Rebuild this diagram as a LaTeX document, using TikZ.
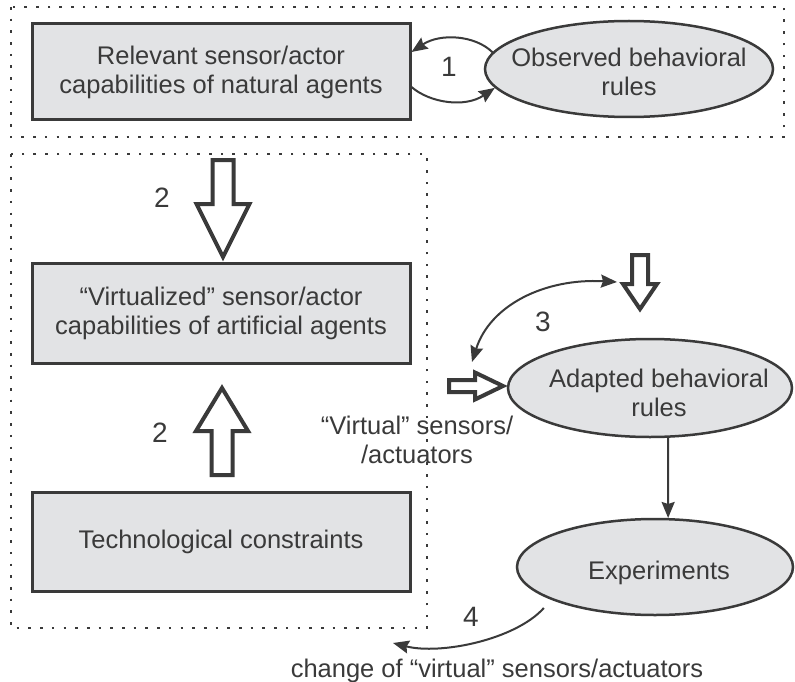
\documentclass[tikz,border=0pt]{standalone}
\usepackage{fontspec}
\setmainfont{Liberation Sans}
\usetikzlibrary{arrows.meta,shapes.geometric,calc}

\definecolor{ink}{HTML}{3A3A3A}
\definecolor{boxfill}{HTML}{E2E3E5}

\begin{document}
\begin{tikzpicture}[x=1pt,y=-1pt,
  txt/.style={font=\fontsize{25.5}{29}\selectfont, align=center, text=ink, inner sep=0pt},
  num/.style={font=\fontsize{28}{30}\selectfont, text=ink, inner sep=0pt},
  capbox/.style={draw=ink, line width=3pt, fill=boxfill, minimum width=378pt, inner sep=0pt, txt},
  oval/.style={ellipse, draw=ink, line width=2.5pt, fill=boxfill, inner sep=0pt},
  region/.style={draw=ink, line width=2.6pt, dash pattern=on 2.6pt off 9.1pt},
  link/.style={draw=ink, line width=2pt, -{Stealth[length=16pt,width=13pt,inset=2pt]}},
  twolink/.style={draw=ink, line width=2pt, {Stealth[length=16pt,width=13pt,inset=2pt]}-{Stealth[length=16pt,width=13pt,inset=2pt]}},
  hollow/.style={draw=ink, line width=4pt, fill=white, line join=miter},
  pics/harrow/.style n args={4}{code={
    \path[hollow] (0,-#3) -- ({#1-#2},-#3) -- ({#1-#2},-#4) -- (#1,0)
      -- ({#1-#2},#4) -- ({#1-#2},#3) -- (0,#3) -- cycle;}}
]
\useasboundingbox (0,0) rectangle (795,682);

% dotted groupings
\path[region] (11,7) rectangle (784,137);
\path[region] (11,154) rectangle (427,628);

% capability boxes
\node[capbox, minimum height=96pt] (natural) at (221,72)
  {Relevant sensor/actor\\capabilities of natural agents};
\node[capbox, minimum height=100pt] (virtualized) at (221,313)
  {“Virtualized” sensor/actor\\capabilities of artificial agents};
\node[capbox, minimum height=99pt] (constraints) at (221,541.5)
  {Technological constraints};

% behaviour ellipses
\node[oval, minimum width=288pt, minimum height=96pt] (observed) at (629,69) {};
\node[txt] at (629,72) {Observed behavioral\\rules};
\node[oval, minimum width=284pt, minimum height=98pt] (adapted) at (650,388) {};
\node[txt] at (659,393) {Adapted behavioral\\rules};
\node[oval, minimum width=276pt, minimum height=96pt] (experiments) at (655,567) {};
\node[txt] at (659,573) {Experiments};

% step 1: observation loop
\draw[link] (observed.173) .. controls (475,35) and (440,33) .. ($(natural.east)+(0,-20)$);
\draw[link] ($(natural.east)+(0,15)$) .. controls (430,103) and (465,108) .. (observed.188);
\node[num] (n1) at (449,67) {1};

% step 2: hollow arrows into the virtualized box
\pic at (223,160) [rotate=-90] {harrow={97}{53}{10.5}{26.5}};
\pic at (222,475) [rotate=90] {harrow={87}{43}{10.5}{26}};
\node[num] (n2a) at (162,198) {2};
\node[num] (n2b) at (160,433) {2};

% step 3: virtual sensors feeding adapted rules
\pic at (640,255) [rotate=-90] {harrow={54}{25}{8}{17}};
\pic at (449,386) {harrow={54}{28}{6}{13.5}};
\coordinate (s3a) at (472,362);
\coordinate (s3b) at (617,282);
\draw[twolink] (s3a) .. controls (490,305) and (545,278) .. (s3b);
\node[num] (n3) at (543,322) {3};
\node[txt] (virtual) at (417,440) {“Virtual” sensors/\\/actuators};

% adapted rules tested in experiments
\draw[link] (adapted.-70) -- (experiments.75);

% step 4: feedback
\coordinate (s4) at (393,643);
\draw[link] ([shift={(-3,10)}]experiments.196) .. controls (515,640) and (440,655) .. (s4);
\node[num] (n4) at (471,617) {4};
\node[txt, anchor=base] (change) at (497,677) {change of “virtual” sensors/actuators};
\end{tikzpicture}
\end{document}
